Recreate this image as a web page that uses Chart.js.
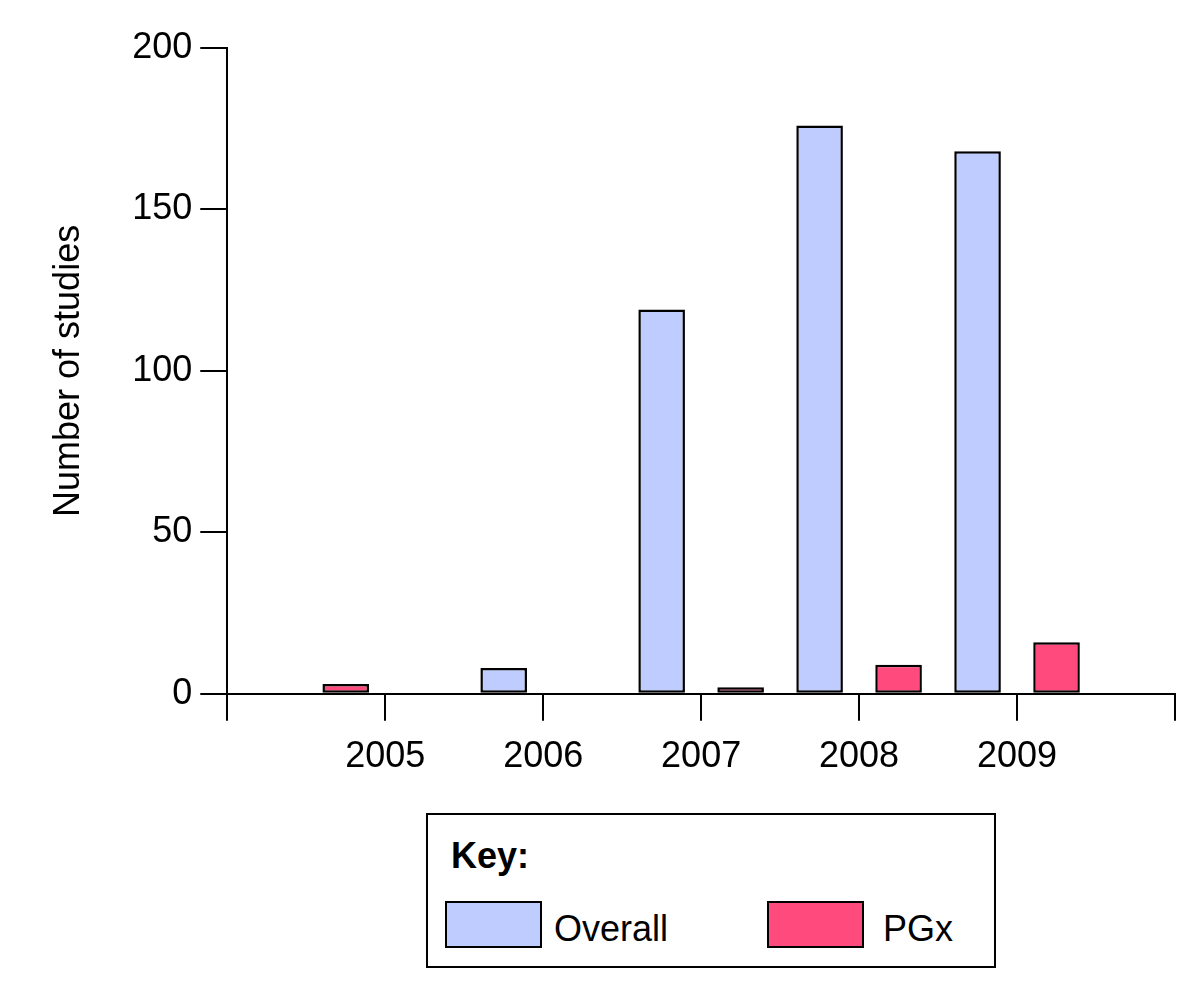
<!DOCTYPE html>
<html lang="en">
<head>
<meta charset="utf-8">
<title>Number of studies</title>
<script src="https://cdn.jsdelivr.net/npm/chart.js"></script>
<style>
  body { margin: 0; background: #fff; font-family: "Liberation Sans", Arial, sans-serif; }
  #wrap { position: relative; width: 1200px; height: 997px; }
  #chartBox { position: absolute; left: 0; top: 0; width: 1200px; height: 800px; }
  .key { position: absolute; left: 426px; top: 813px; width: 566px; height: 151px; border: 2px solid #000; }
  .key .title { position: absolute; left: 23px; top: 23px; font-size: 36px; line-height: 36px; font-weight: bold; }
  .key .sw { position: absolute; top: 86px; width: 93px; height: 43px; border: 2px solid #000; }
  .key .lbl { position: absolute; top: 96px; font-size: 36px; line-height: 36px; }
</style>
</head>
<body>
<div id="wrap">
  <div id="chartBox"><canvas id="myChart"></canvas></div>
  <div class="key" id="key"><div class="title">Key:</div></div>
</div>
<script>
  const categories = ['2005', '2006', '2007', '2008', '2009'];
  const overall = [0, 8, 119, 176, 168];
  const pgx = [3, 0, 2, 9, 16];
  const yTicks = [0, 50, 100, 150, 200];
  const seriesNames = ['Overall', 'PGx'];
  const seriesColors = ['#bfccff', '#ff4a7d'];
  // in the source figure the 2005 PGx bar is drawn in the left-hand slot
  const pgxLeftSlot = ['2005'];

  // empty categories either side give the bare end ticks of the x axis
  const axisLabels = ['', ...categories, ''];
  const pad = arr => [null, ...arr, null];
  const inLeft = i => pgxLeftSlot.includes(categories[i]);

  const barStyle = {
    borderColor: '#000',
    borderWidth: 2.5,
    borderSkipped: false,
    categoryPercentage: 1,
    barPercentage: 0.59
  };

  const ctx = document.getElementById('myChart');
  new Chart(ctx, {
    type: 'bar',
    data: {
      labels: axisLabels,
      datasets: [{
        label: seriesNames[0],
        data: pad(overall),
        backgroundColor: seriesColors[0],
        stack: 'left',
        ...barStyle
      }, {
        label: seriesNames[1],
        data: pad(pgx.map((v, i) => inLeft(i) ? null : v)),
        backgroundColor: seriesColors[1],
        stack: 'right',
        ...barStyle
      }, {
        label: seriesNames[1],
        data: pad(pgx.map((v, i) => inLeft(i) ? v : null)),
        backgroundColor: seriesColors[1],
        stack: 'left',
        ...barStyle
      }]
    },
    options: {
      responsive: true,
      maintainAspectRatio: false,
      animation: false,
      layout: { padding: { left: 38, right: 25, top: 48, bottom: 6 } },
      plugins: { legend: { display: false }, tooltip: { enabled: false } },
      font: { family: '"Liberation Sans", Arial, sans-serif' },
      scales: {
        x: {
          type: 'category',
          offset: false,
          stacked: true,
          grid: { offset: false, drawOnChartArea: false, drawTicks: true, tickLength: 27, color: '#000', lineWidth: 2 },
          border: { display: true, color: '#000', width: 2 },
          ticks: { color: '#000', font: { size: 36 }, padding: 15, autoSkip: false, maxRotation: 0 }
        },
        y: {
          min: 0,
          max: 200,
          stacked: false,
          afterBuildTicks: axis => { axis.ticks = yTicks.map(v => ({ value: v })); },
          grid: { drawOnChartArea: false, drawTicks: true, tickLength: 27, color: '#000', lineWidth: 2 },
          border: { display: true, color: '#000', width: 2 },
          ticks: { color: '#000', font: { size: 36 }, padding: 8 },
          title: {
            display: true,
            text: 'Number of studies',
            color: '#000',
            font: { size: 36 },
            padding: { top: 9, bottom: 34 }
          }
        }
      }
    }
  });

  // key box under the chart
  const key = document.getElementById('key');
  const swLeft = [17, 339];
  const lblLeft = [126, 455];
  seriesNames.forEach((name, i) => {
    const sw = document.createElement('div');
    sw.className = 'sw';
    sw.style.left = swLeft[i] + 'px';
    sw.style.background = seriesColors[i];
    key.appendChild(sw);
    const lbl = document.createElement('div');
    lbl.className = 'lbl';
    lbl.style.left = lblLeft[i] + 'px';
    lbl.textContent = name;
    key.appendChild(lbl);
  });
</script>
</body>
</html>
